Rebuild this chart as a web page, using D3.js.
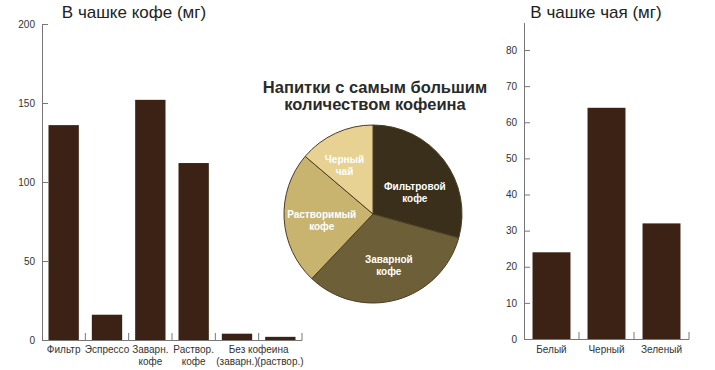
<!DOCTYPE html>
<html><head><meta charset="utf-8">
<script src="https://cdn.jsdelivr.net/npm/d3@7"></script>
<style>
body{margin:0;background:#fff;}
svg{display:block;font-family:"Liberation Sans",Arial,sans-serif;}
</style></head><body>
<svg id="c" width="715" height="370"></svg>
<script>
// Coffee chart data
const coffeeCategories = ["Фильтр","Эспрессо","Заварн. кофе","Раствор. кофе","Без кофеина (заварн.)","Без кофеина (раствор.)"];
const coffeeValues = [136, 16, 152, 112, 4, 2];
const coffeeLabelLines = [["Фильтр"],["Эспрессо"],["Заварн.","кофе"],["Раствор.","кофе"],["","(заварн.)"],["","(раствор.)"]];
const coffeeGroupLabel = "Без кофеина";
const coffeeTicks = [0, 50, 100, 150, 200];
// Tea chart data
const teaCategories = ["Белый","Черный","Зеленый"];
const teaValues = [24, 64, 32];
const teaTicks = [0, 10, 20, 30, 40, 50, 60, 70, 80];
// Pie data
const pieLabels = [["Фильтровой","кофе"],["Заварной","кофе"],["Растворимый","кофе"],["Черный","чай"]];
const pieValues = [136, 152, 112, 64];
const pieColors = ["#3a2f1b","#6d5f37","#c8b36f","#e7d193"];

const svg = d3.select("#c");
const barColor = "#3b2214";
const axisColor = "#777";
const textColor = "#333";

function styleAxis(g){
  g.select(".domain").attr("stroke", axisColor).attr("stroke-width",1);
  g.selectAll(".tick line").attr("stroke", axisColor);
  g.selectAll(".tick text").attr("fill", textColor).style("font-size","10px").style("font-family","'Liberation Sans',Arial,sans-serif");
}

// ---------- Coffee bar chart ----------
{
  const x = d3.scaleBand().domain(coffeeCategories).range([42, 302]).paddingInner(0.3).paddingOuter(0.15);
  const y = d3.scaleLinear().domain([0, 200]).range([340, 24]);
  svg.append("g").selectAll("rect").data(coffeeValues).join("rect")
    .attr("x", (d,i)=>x(coffeeCategories[i]))
    .attr("width", x.bandwidth())
    .attr("y", d=>y(d))
    .attr("height", d=>y(0)-y(d))
    .attr("fill", barColor);
  const ya = svg.append("g").attr("transform","translate(42,0)")
    .call(d3.axisLeft(y).tickValues(coffeeTicks).tickSizeInner(-6).tickSizeOuter(0).tickPadding(7));
  styleAxis(ya);
  const xa = svg.append("g");
  xa.append("line").attr("x1",42).attr("x2",302).attr("y1",340.5).attr("y2",340.5).attr("stroke",axisColor);
  const step = x.step();
  const bounds = coffeeCategories.map((c,i)=> x(c) + x.bandwidth() + (step - x.bandwidth())/2);
  xa.selectAll("line.b").data(bounds).join("line").attr("class","b")
    .attr("x1",d=>Math.min(d,302)).attr("x2",d=>Math.min(d,302)).attr("y1",333).attr("y2",340.5).attr("stroke",axisColor);
  const lab = svg.append("g").attr("fill",textColor).style("font-size","10px").attr("text-anchor","middle");
  coffeeLabelLines.forEach((lines,i)=>{
    const cx = x(coffeeCategories[i]) + x.bandwidth()/2;
    lines.forEach((t,j)=>{
      if(t) lab.append("text").attr("x",cx).attr("y",353 + j*12).text(t);
    });
  });
  lab.append("text").attr("x", bounds[4]).attr("y",353).text(coffeeGroupLabel);
  svg.append("text").attr("x",134).attr("y",18).attr("text-anchor","middle")
    .attr("fill","#222").style("font-size","17px").text("В чашке кофе (мг)");
}

// ---------- Tea bar chart ----------
{
  const x = d3.scaleBand().domain(teaCategories).range([524, 689]).paddingInner(0.31).paddingOuter(0.155);
  const y = d3.scaleLinear().domain([0, 80]).range([339, 50]);
  svg.append("g").selectAll("rect").data(teaValues).join("rect")
    .attr("x", (d,i)=>x(teaCategories[i]))
    .attr("width", x.bandwidth())
    .attr("y", d=>y(d))
    .attr("height", d=>y(0)-y(d))
    .attr("fill", barColor);
  const ya = svg.append("g").attr("transform","translate(524,0)")
    .call(d3.axisLeft(y).tickValues(teaTicks).tickSizeInner(-6).tickSizeOuter(0).tickPadding(7));
  styleAxis(ya);
  ya.append("line").attr("x1",0.5).attr("x2",0.5).attr("y1",23).attr("y2",y(80)).attr("stroke",axisColor);
  const xa = svg.append("g");
  xa.append("line").attr("x1",524).attr("x2",689).attr("y1",339.5).attr("y2",339.5).attr("stroke",axisColor);
  const step = x.step();
  const bounds = teaCategories.map(c=> x(c) + x.bandwidth() + (step - x.bandwidth())/2);
  xa.selectAll("line.b").data(bounds).join("line").attr("class","b")
    .attr("x1",d=>d).attr("x2",d=>d).attr("y1",332).attr("y2",339.5).attr("stroke",axisColor);
  svg.append("g").attr("fill",textColor).style("font-size","10px").attr("text-anchor","middle")
    .selectAll("text").data(teaCategories).join("text")
    .attr("x", d=>x(d)+x.bandwidth()/2).attr("y",353).text(d=>d);
  svg.append("text").attr("x",596).attr("y",18).attr("text-anchor","middle")
    .attr("fill","#222").style("font-size","17px").text("В чашке чая (мг)");
}

// ---------- Pie ----------
{
  const cx = 373, cy = 214, r = 89;
  const pie = d3.pie().sort(null).value(d=>d);
  const arcs = pie(pieValues);
  const arc = d3.arc().innerRadius(0).outerRadius(r);
  const g = svg.append("g").attr("transform",`translate(${cx},${cy})`);
  g.selectAll("path").data(arcs).join("path")
    .attr("d", arc).attr("fill",(d,i)=>pieColors[i])
    .attr("stroke","#4a3d22").attr("stroke-width",1);
  // label placement: radius factor and angular shift (radians) per slice
  const labelRadius = [0.53, 0.6, 0.58, 0.64];
  const labelShift = [0.17, -0.03, -0.06, -0.09];
  g.selectAll("text.pl").data(arcs).join("text").attr("class","pl")
    .attr("text-anchor","middle").attr("fill","#fff").style("font-size","10px").style("font-weight","bold")
    .each(function(d,i){
      const a = (d.startAngle + d.endAngle)/2 + labelShift[i];
      const px = Math.sin(a) * r * labelRadius[i];
      const py = -Math.cos(a) * r * labelRadius[i];
      const t = d3.select(this);
      pieLabels[i].forEach((s,j)=>{
        t.append("tspan").attr("x",px).attr("y",py + (j-0.5)*12 + 4).text(s);
      });
    });
  const title = svg.append("text").attr("text-anchor","middle").attr("fill","#2a2a2a")
    .style("font-size","16.5px").style("font-weight","bold");
  title.append("tspan").attr("x",375).attr("y",93).text("Напитки с самым большим");
  title.append("tspan").attr("x",375).attr("y",110).text("количеством кофеина");
}
</script>
</body></html>
